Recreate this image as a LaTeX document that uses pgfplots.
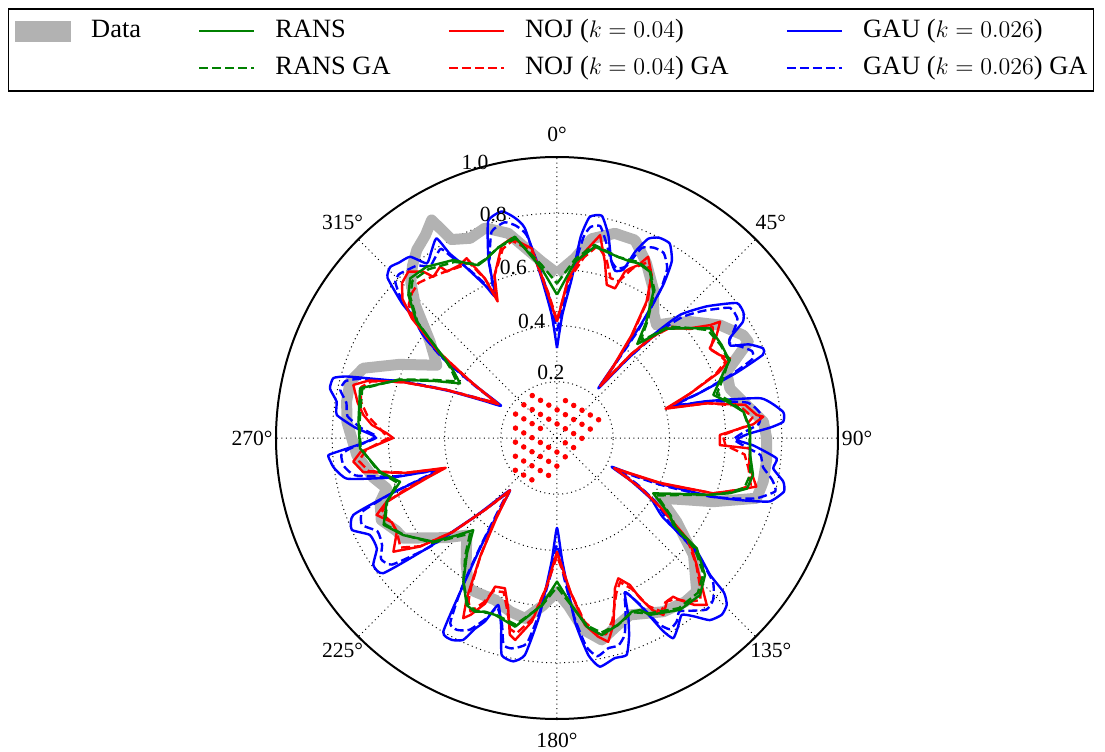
\documentclass[border=0pt]{standalone}
\usepackage{fontspec}
\setmainfont{Liberation Serif}
\usepackage{pgfplots}
\usepackage{pgfplotstable}
\pgfplotsset{compat=1.18}
\usepgfplotslibrary{polar}
\definecolor{mgreen}{rgb}{0,0.5,0}
\definecolor{mred}{rgb}{1,0,0}
\definecolor{mblue}{rgb}{0,0,1}
\definecolor{mgray}{rgb}{0.7,0.7,0.7}

% angles in compass degrees (0 = north, clockwise), r = normalised power
\pgfplotstableread[row sep=\\]{a r\\
0 0.586\\ 5.7 0.643\\ 9.9 0.72\\ 15.8 0.757\\ 21.5 0.757\\ 27 0.70\\ 33 0.63\\ 38 0.56\\ 41.4 0.536\\ 45 0.58\\
48.8 0.629\\ 55.3 0.706\\ 61.1 0.757\\ 63.3 0.762\\ 68.7 0.648\\ 74 0.64\\ 79 0.675\\ 85.5 0.737\\ 90 0.746\\ 96 0.75\\
102 0.75\\ 106.8 0.742\\ 112.2 0.60\\ 116 0.50\\ 120.3 0.425\\ 125 0.52\\ 130.6 0.64\\ 137.7 0.739\\ 142 0.74\\ 148.5 0.725\\
157.6 0.681\\ 162 0.70\\ 167.5 0.736\\ 172 0.69\\ 176 0.60\\ 180 0.547\\ 185 0.60\\ 190 0.652\\ 195 0.64\\ 201 0.617\\
208 0.62\\ 210.5 0.621\\ 216 0.55\\ 222.9 0.472\\ 228 0.53\\ 236.9 0.653\\ 240 0.66\\ 245 0.69\\ 250 0.67\\ 253.5 0.632\\
258 0.67\\ 265.1 0.715\\ 274.4 0.75\\ 280 0.76\\ 285.2 0.763\\ 289.8 0.733\\ 295 0.62\\ 301.2 0.50\\ 307.2 0.567\\ 313.1 0.69\\
316.8 0.76\\ 320 0.80\\ 323.3 0.835\\ 327 0.86\\ 330.1 0.895\\ 332 0.80\\ 336.5 0.775\\ 341.1 0.79\\ 346.6 0.749\\ 355 0.63\\
360 0.586\\
}\dataT

\pgfplotstableread[row sep=\\]{a r\\
0 0.51\\ 5.8 0.63\\ 11.2 0.694\\ 18.7 0.68\\ 22.5 0.68\\ 24.9 0.686\\ 29.2 0.678\\ 33.4 0.623\\ 37.6 0.52\\ 40.5 0.44\\
42 0.47\\ 45 0.55\\ 50.1 0.609\\ 54.4 0.67\\ 60.5 0.673\\ 63.9 0.672\\ 65.7 0.675\\ 70 0.62\\ 74.6 0.577\\ 78 0.62\\
82 0.67\\ 87.1 0.688\\ 95 0.69\\ 100.7 0.71\\ 104.9 0.70\\ 107.7 0.646\\ 110.4 0.58\\ 115 0.47\\ 119.9 0.395\\ 124.3 0.487\\
126.8 0.517\\ 128.3 0.634\\ 132.8 0.718\\ 137.7 0.756\\ 144.4 0.752\\ 152.3 0.711\\ 154.2 0.68\\ 156.7 0.673\\ 162 0.70\\ 167.2 0.719\\
171 0.68\\ 175 0.597\\ 180 0.511\\ 185.2 0.597\\ 192.5 0.688\\ 199.3 0.667\\ 202.5 0.669\\ 205.3 0.684\\ 208.4 0.676\\ 213.1 0.61\\
218 0.52\\ 222.3 0.443\\ 226 0.50\\ 230 0.574\\ 237.7 0.647\\ 243.4 0.69\\ 249.5 0.647\\ 254.4 0.58\\ 259.2 0.641\\ 267 0.702\\
274.7 0.709\\ 284.2 0.723\\ 290.3 0.596\\ 295 0.48\\ 299.4 0.396\\ 303 0.44\\ 304.7 0.477\\ 309.7 0.649\\ 313.9 0.734\\ 317.4 0.772\\
322.7 0.766\\ 329.8 0.733\\ 332.7 0.70\\ 335.5 0.676\\ 338 0.683\\ 343 0.71\\ 348.2 0.732\\ 354.8 0.606\\ 360 0.51\\
}\ransT

\pgfplotstableread[row sep=\\]{a r\\
0 0.55\\ 5.8 0.64\\ 11 0.70\\ 18.7 0.68\\ 24.9 0.69\\ 29.2 0.68\\ 33.4 0.63\\ 37.6 0.53\\ 40.5 0.46\\ 42.5 0.49\\
45 0.56\\ 50 0.61\\ 54.4 0.66\\ 60.5 0.67\\ 65.7 0.67\\ 70 0.63\\ 74.6 0.59\\ 78 0.63\\ 82 0.67\\ 87.1 0.685\\
95 0.69\\ 100.7 0.70\\ 104.9 0.69\\ 107.7 0.64\\ 110.4 0.58\\ 115 0.48\\ 119.9 0.41\\ 124.3 0.49\\ 127 0.53\\ 128.8 0.63\\
132.8 0.71\\ 137.7 0.745\\ 144.4 0.745\\ 152.3 0.705\\ 156.7 0.675\\ 162 0.70\\ 167.2 0.71\\ 171 0.675\\ 175 0.60\\ 180 0.53\\
185.2 0.60\\ 192.5 0.68\\ 199.3 0.665\\ 205.3 0.68\\ 208.4 0.67\\ 213.1 0.61\\ 218 0.53\\ 222.3 0.46\\ 226 0.51\\ 230 0.58\\
237.7 0.645\\ 243.4 0.685\\ 249.5 0.645\\ 254.4 0.59\\ 259.2 0.645\\ 267 0.70\\ 274.7 0.705\\ 284.2 0.715\\ 290.3 0.60\\ 295 0.49\\
299.4 0.41\\ 303 0.45\\ 304.7 0.48\\ 309.7 0.645\\ 313.9 0.725\\ 317.4 0.76\\ 322.7 0.755\\ 329.8 0.725\\ 332.7 0.70\\ 335.5 0.68\\
338 0.685\\ 343 0.71\\ 348.2 0.725\\ 354.8 0.62\\ 360 0.55\\
}\ransgaT

\pgfplotstableread[row sep=\\]{a r\\
0 0.414\\ 4 0.57\\ 8.5 0.67\\ 12 0.738\\ 15.2 0.65\\ 18 0.573\\ 21.2 0.571\\ 22.2 0.64\\ 23.3 0.657\\ 25.2 0.68\\
26.7 0.722\\ 30.2 0.67\\ 33.3 0.58\\ 36 0.45\\ 38 0.33\\ 39.8 0.24\\ 41.5 0.40\\ 43.5 0.50\\ 45 0.55\\ 50.5 0.614\\
53.6 0.677\\ 54.5 0.713\\ 57.2 0.676\\ 59.6 0.63\\ 63 0.65\\ 65.3 0.678\\ 68 0.62\\ 71.5 0.50\\ 74.9 0.40\\ 77 0.55\\
80 0.68\\ 83.4 0.715\\ 84.1 0.738\\ 86 0.70\\ 88.9 0.58\\ 92.5 0.58\\ 93.1 0.688\\ 98 0.69\\ 103.7 0.73\\ 106 0.67\\
109.5 0.59\\ 113.5 0.40\\ 117.8 0.23\\ 121 0.35\\ 124 0.45\\ 128 0.60\\ 132.3 0.672\\ 136.4 0.755\\ 138.1 0.798\\ 140.5 0.77\\
142.8 0.724\\ 143.8 0.70\\ 146 0.70\\ 149 0.735\\ 151 0.70\\ 152.6 0.642\\ 153.6 0.584\\ 156.4 0.545\\ 158.9 0.573\\ 163.2 0.695\\
165.9 0.748\\ 168.3 0.722\\ 171.5 0.673\\ 175 0.55\\ 180 0.405\\ 184 0.53\\ 187.8 0.66\\ 191.7 0.734\\ 193.5 0.72\\ 196 0.63\\
199.1 0.566\\ 202.6 0.573\\ 203.5 0.643\\ 206 0.70\\ 207.5 0.723\\ 209.4 0.655\\ 213 0.50\\ 217 0.36\\ 222 0.25\\ 225 0.36\\
228 0.50\\ 231.6 0.622\\ 235.2 0.709\\ 239.7 0.66\\ 243 0.66\\ 246.9 0.698\\ 249.5 0.647\\ 250.7 0.579\\ 253 0.48\\ 255 0.41\\
257 0.55\\ 260 0.70\\ 263.4 0.73\\ 266 0.70\\ 270 0.583\\ 271.6 0.606\\ 274 0.66\\ 276.8 0.694\\ 280 0.72\\ 284.6 0.749\\
287 0.70\\ 290 0.58\\ 293.5 0.43\\ 297 0.30\\ 300 0.24\\ 303 0.36\\ 306 0.52\\ 309.5 0.67\\ 312 0.74\\ 315 0.78\\
318.2 0.794\\ 321.2 0.76\\ 322.5 0.723\\ 325.7 0.738\\ 326.6 0.71\\ 330.7 0.706\\ 333.3 0.716\\ 335.7 0.623\\ 336.5 0.53\\ 339 0.62\\
344 0.714\\ 347.2 0.729\\ 352.4 0.681\\ 356.5 0.51\\ 360 0.414\\
}\nojT

\pgfplotstableread[row sep=\\]{a r\\
0 0.42\\ 4 0.56\\ 8.5 0.65\\ 12 0.70\\ 15.5 0.66\\ 18.5 0.60\\ 21.5 0.60\\ 24 0.66\\ 27 0.70\\ 30 0.67\\
33.3 0.59\\ 36 0.46\\ 38 0.34\\ 39.8 0.25\\ 41.5 0.40\\ 43.5 0.50\\ 46 0.57\\ 50.5 0.61\\ 54.5 0.68\\ 57.5 0.66\\
60 0.63\\ 63 0.65\\ 65.5 0.66\\ 68 0.61\\ 71.5 0.50\\ 74.9 0.41\\ 77 0.55\\ 80 0.66\\ 84 0.70\\ 86.5 0.67\\
89 0.59\\ 92.5 0.60\\ 95 0.67\\ 99 0.69\\ 103.7 0.71\\ 106 0.67\\ 109.5 0.59\\ 113.5 0.41\\ 117.8 0.24\\ 121 0.35\\
124 0.45\\ 128 0.59\\ 132.3 0.67\\ 136.4 0.74\\ 138.5 0.77\\ 141 0.75\\ 143.8 0.71\\ 146.5 0.70\\ 149 0.72\\ 151.5 0.68\\
153.6 0.60\\ 156.4 0.56\\ 159 0.59\\ 163.2 0.68\\ 166 0.72\\ 168.5 0.71\\ 171.5 0.66\\ 175 0.55\\ 180 0.42\\ 184 0.53\\
187.8 0.65\\ 191.7 0.71\\ 193.8 0.70\\ 196 0.64\\ 199.1 0.58\\ 202.6 0.59\\ 204 0.64\\ 206.5 0.69\\ 208.5 0.66\\ 210 0.61\\
213 0.50\\ 217 0.37\\ 222 0.26\\ 225 0.36\\ 228 0.50\\ 231.6 0.62\\ 235 0.68\\ 239.7 0.66\\ 243 0.66\\ 246.9 0.68\\
249.5 0.64\\ 251 0.58\\ 253 0.49\\ 255 0.42\\ 257 0.55\\ 260 0.68\\ 263.4 0.71\\ 266.5 0.68\\ 270 0.60\\ 272 0.62\\
276.8 0.68\\ 280.5 0.71\\ 284.6 0.72\\ 287 0.69\\ 290 0.58\\ 293.5 0.43\\ 297 0.31\\ 300 0.25\\ 303 0.36\\ 306 0.52\\
309.5 0.66\\ 312 0.71\\ 315 0.73\\ 318.2 0.74\\ 321.2 0.73\\ 324 0.72\\ 327 0.71\\ 330.7 0.70\\ 333.3 0.70\\ 335.7 0.62\\
336.5 0.55\\ 339 0.62\\ 344 0.70\\ 347.2 0.72\\ 352.4 0.67\\ 356.5 0.52\\ 360 0.42\\
}\nojgaT

\pgfplotstableread[row sep=\\]{a r\\
0 0.32\\ 2.5 0.44\\ 5.3 0.57\\ 6.7 0.72\\ 8.4 0.795\\ 11.4 0.807\\ 14.2 0.745\\ 17 0.66\\ 19.2 0.63\\ 21.5 0.645\\
22.8 0.72\\ 24.6 0.78\\ 27 0.80\\ 30.1 0.80\\ 33.0 0.75\\ 34.8 0.66\\ 36.5 0.50\\ 38 0.33\\ 39.8 0.23\\ 41.5 0.35\\
43 0.50\\ 45 0.62\\ 48.7 0.71\\ 53.1 0.80\\ 56 0.80\\ 58 0.78\\ 60 0.71\\ 62 0.70\\ 64 0.76\\ 66.5 0.80\\
68 0.79\\ 70 0.68\\ 72.5 0.53\\ 74.5 0.42\\ 76.2 0.55\\ 79 0.74\\ 83.4 0.81\\ 85.9 0.807\\ 87.2 0.76\\ 88.8 0.68\\
90.6 0.64\\ 92.2 0.70\\ 95.3 0.785\\ 98 0.777\\ 100.9 0.82\\ 103.3 0.83\\ 106.6 0.79\\ 108.5 0.70\\ 110.6 0.594\\ 113.5 0.42\\
115.8 0.30\\ 117.8 0.22\\ 120 0.30\\ 123 0.40\\ 126.8 0.47\\ 129.1 0.641\\ 131.8 0.731\\ 132.8 0.81\\ 134.5 0.847\\ 137 0.86\\
140 0.846\\ 142.5 0.80\\ 144.8 0.77\\ 147.5 0.80\\ 149.9 0.824\\ 151.3 0.78\\ 153.6 0.664\\ 156.2 0.60\\ 158.1 0.68\\ 160 0.75\\
162.2 0.811\\ 165.3 0.81\\ 169.4 0.828\\ 171.8 0.78\\ 174.4 0.657\\ 177.5 0.44\\ 180 0.32\\ 182.5 0.44\\ 185.6 0.633\\ 188.4 0.78\\
191.1 0.81\\ 194.3 0.797\\ 196.5 0.70\\ 199.4 0.63\\ 201.4 0.70\\ 203.3 0.74\\ 204.9 0.792\\ 207.5 0.81\\ 210.4 0.80\\ 212.5 0.62\\
215.5 0.45\\ 219 0.31\\ 222 0.25\\ 224.5 0.32\\ 226.2 0.40\\ 229.5 0.594\\ 232.1 0.783\\ 235.3 0.795\\ 238.5 0.752\\ 242.6 0.75\\
245.9 0.80\\ 249.3 0.775\\ 251.5 0.62\\ 253.2 0.50\\ 254.9 0.43\\ 256.5 0.60\\ 259 0.76\\ 262.3 0.80\\ 264 0.81\\ 265.7 0.816\\
266.6 0.774\\ 268.5 0.69\\ 270.4 0.648\\ 273 0.72\\ 276 0.788\\ 279.4 0.795\\ 282.3 0.827\\ 285 0.824\\ 286.3 0.78\\ 288 0.68\\
290.1 0.582\\ 293.5 0.42\\ 297 0.29\\ 300 0.23\\ 302.5 0.33\\ 305 0.49\\ 307.5 0.60\\ 309.7 0.65\\ 311 0.73\\ 313.4 0.83\\
315.7 0.85\\ 318 0.84\\ 321 0.83\\ 323.3 0.775\\ 326 0.80\\ 328.9 0.83\\ 329.8 0.76\\ 331.6 0.70\\ 334.8 0.60\\ 336.5 0.55\\
339 0.68\\ 342.4 0.81\\ 346.3 0.83\\ 349 0.80\\ 351.3 0.755\\ 354.5 0.57\\ 357.5 0.44\\ 360 0.32\\
}\gauT

\pgfplotstableread[row sep=\\]{a r\\
0 0.38\\ 2.8 0.48\\ 5.5 0.60\\ 7.5 0.72\\ 9 0.76\\ 11.5 0.77\\ 14 0.72\\ 17 0.66\\ 19.5 0.64\\ 22 0.66\\
24 0.74\\ 27 0.76\\ 30 0.76\\ 33 0.72\\ 35 0.64\\ 37 0.48\\ 39.8 0.25\\ 41.8 0.38\\ 44 0.53\\ 46 0.62\\
49 0.69\\ 53 0.77\\ 56.5 0.77\\ 58.5 0.74\\ 61 0.70\\ 63.5 0.73\\ 66 0.76\\ 68 0.75\\ 70 0.66\\ 72.5 0.53\\
74.5 0.44\\ 76.5 0.56\\ 79.5 0.69\\ 83 0.728\\ 86 0.72\\ 88.5 0.66\\ 90.5 0.63\\ 93 0.68\\ 94.8 0.727\\ 98 0.74\\
101 0.78\\ 103.7 0.80\\ 106.8 0.742\\ 109 0.66\\ 111 0.58\\ 114 0.42\\ 116 0.32\\ 117.8 0.25\\ 120 0.33\\ 123 0.42\\
127 0.50\\ 129.5 0.64\\ 132.7 0.755\\ 136 0.80\\ 138.9 0.81\\ 142 0.78\\ 144.8 0.755\\ 146.9 0.78\\ 149.5 0.79\\ 151.5 0.75\\
153.6 0.66\\ 156.2 0.60\\ 158.3 0.66\\ 161 0.74\\ 163.5 0.77\\ 166.3 0.77\\ 169.5 0.79\\ 172 0.75\\ 174.5 0.64\\ 177.5 0.48\\
180 0.38\\ 182.5 0.48\\ 185.6 0.62\\ 188.4 0.74\\ 192.2 0.766\\ 194.5 0.76\\ 196.5 0.69\\ 199.4 0.64\\ 201.4 0.69\\ 204.5 0.75\\
207.5 0.77\\ 210 0.76\\ 212.5 0.63\\ 215.5 0.46\\ 219 0.33\\ 222 0.27\\ 224.5 0.34\\ 226.5 0.42\\ 229.5 0.60\\ 232.5 0.74\\
235.5 0.76\\ 238.5 0.73\\ 242.5 0.72\\ 246 0.76\\ 249.3 0.74\\ 251.5 0.62\\ 253.2 0.51\\ 254.9 0.45\\ 256.8 0.60\\ 259.5 0.73\\
262.5 0.765\\ 265.5 0.77\\ 267 0.74\\ 268.7 0.68\\ 270.4 0.64\\ 273 0.70\\ 276 0.75\\ 279.5 0.76\\ 282.5 0.79\\ 285 0.78\\
286.5 0.74\\ 288.2 0.66\\ 290.3 0.58\\ 293.5 0.43\\ 297 0.31\\ 300 0.25\\ 302.5 0.35\\ 305 0.50\\ 307.5 0.60\\ 310 0.67\\
312 0.75\\ 314 0.80\\ 316 0.81\\ 318.5 0.80\\ 321 0.79\\ 323.5 0.76\\ 326 0.775\\ 328.5 0.79\\ 330 0.74\\ 332 0.69\\
334.8 0.61\\ 336.5 0.57\\ 339 0.67\\ 342.4 0.77\\ 346.3 0.79\\ 349 0.77\\ 351.5 0.73\\ 354.5 0.59\\ 357.5 0.48\\ 360 0.38\\
}\gaugaT

% turbine layout, in units of the outer radius (x east, y north)
\pgfplotstableread[row sep=\\]{x y\\
-0.1475 0.0852\\ -0.1178 0.1181\\ -0.0881 0.1511\\
-0.1477 0.0352\\ -0.1180 0.0681\\ -0.0883 0.1011\\ -0.0586 0.1341\\
-0.1479 -0.0148\\ -0.1182 0.0181\\ -0.0885 0.0511\\ -0.0588 0.0841\\ -0.0291 0.1170\\
-0.1481 -0.0649\\ -0.1184 -0.0319\\ -0.0887 0.0011\\ -0.0590 0.0341\\ -0.0293 0.0670\\ 0.0004 0.1000\\ 0.0301 0.1330\\
-0.1483 -0.1148\\ -0.1186 -0.0819\\ -0.0889 -0.0489\\ -0.0592 -0.0159\\ 0.0002 0.0500\\ 0.0299 0.0830\\ 0.0596 0.1159\\
-0.1188 -0.1319\\ -0.0891 -0.0989\\ -0.0594 -0.0659\\ -0.0297 -0.0330\\ 0.0297 0.0330\\ 0.0594 0.0659\\ 0.0891 0.0989\\
-0.0893 -0.1489\\ -0.0596 -0.1159\\ -0.0299 -0.0830\\ -0.0002 -0.0500\\ 0.0295 -0.0170\\ 0.0592 0.0159\\ 0.0889 0.0489\\ 0.1186 0.0819\\
-0.0301 -0.1330\\ -0.0004 -0.1000\\ 0.0293 -0.0670\\ 0.0590 -0.0341\\ 0.0887 -0.0011\\ 0.1184 0.0319\\ 0.1481 0.0649\\
}\turbT

\begin{document}
\begin{tikzpicture}
\useasboundingbox (0,0) rectangle (552.5pt,375.5pt);
\begin{polaraxis}[
  at={(278.5pt,156.5pt)}, anchor=center,
  width=281pt, height=281pt, scale only axis,
  xmin=0, xmax=360, ymin=0, ymax=1,
  xtick={0,45,...,315}, xticklabels={},
  ytick={0.2,0.4,0.6,0.8,1.0}, yticklabels={},
  grid=major,
  major grid style={black, line width=0.5pt, dash pattern=on 0.5pt off 1.75pt},
  major tick length=0pt,
  axis line style={black, line width=1pt},
  y axis line style={draw=none},
  clip=false,
  legend columns=4,
  legend cell align=left,
  legend image code/.code={\draw[#1] (0pt,0pt) -- (27.5pt,0pt);},
  legend style={
    at={(axis description cs:-0.4769,1.2651)}, anchor=north west,
    draw=black, line width=0.75pt, fill=white,
    font=\fontsize{13.2}{15.8}\selectfont,
    inner xsep=3pt, inner ysep=5pt,
    nodes={inner xsep=0pt, inner ysep=0pt, text height=9.5pt, text depth=3pt},
    row sep=6pt,
    /tikz/every even column/.append style={column sep=28.5pt},
    /tikz/every odd column/.append style={column sep=10pt},
  },
]
\addplot[mgray, line width=5.5pt, line join=round, forget plot] table[x expr={mod(450-\thisrow{a},360)}, y=r] {\dataT};
\addplot[mblue, line width=1.2pt, line join=round, smooth, tension=0.3, forget plot] table[x expr={mod(450-\thisrow{a},360)}, y=r] {\gauT};
\addplot[mblue, line width=1.2pt, line join=round, smooth, tension=0.3, dash pattern=on 4.5pt off 2pt, forget plot] table[x expr={mod(450-\thisrow{a},360)}, y=r] {\gaugaT};
\addplot[mred, line width=1.2pt, line join=round, forget plot] table[x expr={mod(450-\thisrow{a},360)}, y=r] {\nojT};
\addplot[mred, line width=1.2pt, line join=round, dash pattern=on 4.5pt off 2pt, forget plot] table[x expr={mod(450-\thisrow{a},360)}, y=r] {\nojgaT};
\addplot[mgreen, line width=1.2pt, line join=round, forget plot] table[x expr={mod(450-\thisrow{a},360)}, y=r] {\ransT};
\addplot[mgreen, line width=1.2pt, line join=round, dash pattern=on 4.5pt off 2pt, forget plot] table[x expr={mod(450-\thisrow{a},360)}, y=r] {\ransgaT};

\addlegendimage{legend image code/.code={\fill[mgray] (0pt,-5pt) rectangle (27.5pt,5pt);}}
\addlegendentry{Data}
\addlegendimage{mgreen, line width=1.2pt}
\addlegendentry{RANS}
\addlegendimage{mred, line width=1.2pt}
\addlegendentry{NOJ ($k=0.04$)}
\addlegendimage{mblue, line width=1.2pt}
\addlegendentry{GAU ($k=0.026$)}
\addlegendimage{empty legend}
\addlegendentry{}
\addlegendimage{mgreen, line width=1.2pt, dash pattern=on 4.5pt off 2pt}
\addlegendentry{RANS GA}
\addlegendimage{mred, line width=1.2pt, dash pattern=on 4.5pt off 2pt}
\addlegendentry{NOJ ($k=0.04$) GA}
\addlegendimage{mblue, line width=1.2pt, dash pattern=on 4.5pt off 2pt}
\addlegendentry{GAU ($k=0.026$) GA}
\end{polaraxis}

\begin{axis}[
  at={(278.5pt,156.5pt)}, anchor=center,
  width=281pt, height=281pt, scale only axis,
  xmin=-1, xmax=1, ymin=-1, ymax=1,
  hide axis, clip=false,
]
\addplot[only marks, mark=*, mark size=1.15pt, mred, mark options={draw=mred, fill=mred}] table[x=x, y=y] {\turbT};
\begin{scope}[font=\fontsize{10.8}{13}\selectfont]
\node at (axis cs:0,1.082) {0°};
\node at (axis cs:0.761,0.767) {45°};
\node at (axis cs:1.068,0) {90°};
\node at (axis cs:0.761,-0.757) {135°};
\node at (axis cs:0,-1.075) {180°};
\node at (axis cs:-0.763,-0.757) {225°};
\node at (axis cs:-1.085,0) {270°};
\node at (axis cs:-0.763,0.767) {315°};
\node at (axis cs:-0.2918,0.9804) {1.0};
\node at (axis cs:-0.2267,0.7954) {0.8};
\node at (axis cs:-0.1555,0.6068) {0.6};
\node at (axis cs:-0.0900,0.4139) {0.4};
\node at (axis cs:-0.0214,0.2349) {0.2};
\end{scope}
\end{axis}
\end{tikzpicture}
\end{document}
